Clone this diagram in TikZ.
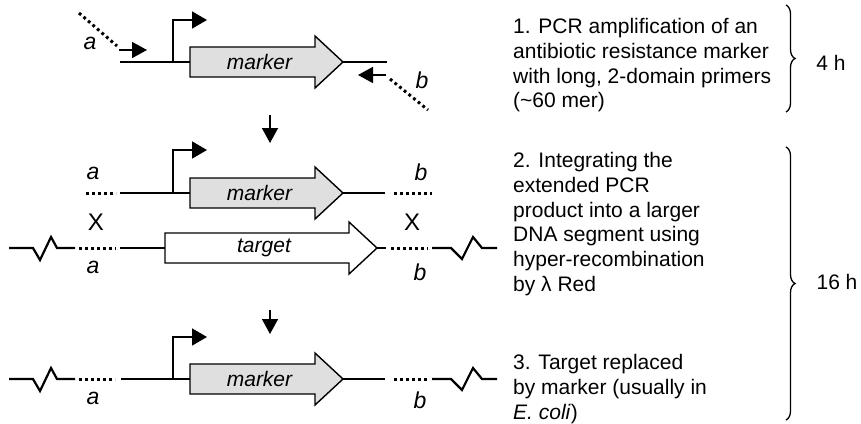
\documentclass[tikz,border=0pt]{standalone}
\usepackage{fontspec}
\setmainfont{Liberation Sans}
\usetikzlibrary{arrows.meta,decorations.pathreplacing}
\tikzset{
  dna/.style       = {line width=2.2pt, line join=miter},
  flank/.style     = {line width=3pt, dash pattern=on 2.8pt off 3.2pt},
  genebox/.style   = {draw, line width=1.4pt, line join=miter},
  genetext/.style  = {font=\fontsize{21}{24}\selectfont\itshape, inner sep=0pt},
  promoter/.style  = {line width=1.6pt, -{Triangle[length=15pt,width=17pt]}},
  primer/.style    = {line width=1.6pt, -{Triangle[length=15pt,width=16pt]}},
  flowarrow/.style = {line width=1.6pt, -{Triangle[length=15pt,width=16pt]}},
  steptext/.style  = {font=\fontsize{21}{24.8}\selectfont, align=left, inner sep=0pt,
                      anchor=north west},
  sitelabel/.style = {font=\fontsize{23}{24}\selectfont\itshape, inner sep=0pt},
  plainlabel/.style = {font=\fontsize{21}{24}\selectfont, inner sep=0pt},
  crosslabel/.style = {font=\fontsize{24}{24}\selectfont, inner sep=0pt},
  timebrace/.style = {decorate, decoration={brace, amplitude=9pt}, line width=1.3pt}
}
% gene drawn as a block arrow: name, tail x, tip x, y, fill, text
\newcommand{\genearrow}[6]{%
  \draw[genebox, fill=#5] (#2,#4-15) -- (#3-28,#4-15) -- (#3-28,#4-26) -- (#3,#4)
    -- (#3-28,#4+26) -- (#3-28,#4+15) -- (#2,#4+15) -- cycle;
  \node[genetext] (#1) at ({(#2+#3)/2-7},#4) {#6};
  \coordinate (#1 tail) at (#2,#4);
  \coordinate (#1 tip) at (#3,#4);
}

\begin{document}
\begin{tikzpicture}[x=1pt, y=-1pt]
  \useasboundingbox (0,0) rectangle (861,423);

  % step 1, the PCR product and its two primers
  \genearrow{m1}{190}{343}{62}{gray!25}{marker}
  \draw[dna] (120,62) -- (m1 tail) (m1 tip) -- (387,62);
  \draw[promoter] (173,62) |- (207,20);
  \draw[flank] (79,13) -- (117,46);
  \draw[primer] (119,50) -- (147,50);
  \draw[primer] (386,75) -- (358,75);
  \draw[flank] (390,79) -- (428,110);
  \node[sitelabel] (a1) at (90,43) {a};
  \node[sitelabel] (b1) at (422,80) {b};

  \draw[flowarrow] (270,115) -- (270,143);

  % step 2, extended product above the target segment
  \genearrow{m2}{190}{343}{193}{gray!25}{marker}
  \draw[dna] (120,193) -- (m2 tail) (m2 tip) -- (385,193);
  \draw[flank] (86,193) -- (116,193);
  \draw[flank] (394,193) -- (432,193);
  \draw[promoter] (173,193) |- (207,150);
  \node[sitelabel] (a2) at (93,173) {a};
  \node[sitelabel] (b2) at (421,172) {b};
  \node[crosslabel] (x1) at (96,222) {X};
  \node[crosslabel] (x2) at (412,222) {X};

  \genearrow{tg}{165}{377}{248}{white}{target}
  \draw[dna] (120,248) -- (tg tail) (tg tip) -- (386,248);
  \draw[flank] (79,248) -- (116,248);
  \draw[flank] (391,248) -- (428,248);
  \node[sitelabel] (a3) at (93,267) {a};
  \node[sitelabel] (b3) at (420,272) {b};

  \draw[flowarrow] (270,310) -- (270,334);

  % step 3, marker in place of the target
  \genearrow{m3}{190}{343}{379}{gray!25}{marker}
  \draw[dna] (121,379) -- (m3 tail) (m3 tip) -- (385,379);
  \draw[flank] (79,379) -- (115,379);
  \draw[flank] (394,379) -- (428,379);
  \draw[promoter] (173,379) |- (207,337);
  \node[sitelabel] (a4) at (93,398) {a};
  \node[sitelabel] (b4) at (420,400) {b};

  % broken ends of the larger segment
  \foreach \y in {248,379} {
    \draw[dna] (9,\y) -- ++(24,0) -- ++(7,12) -- ++(11,-23) -- ++(6,11) -- ++(18,0);
    \draw[dna] (432,\y) -- ++(19,0) -- ++(11,11) -- ++(11,-22) -- ++(9,11) -- ++(15,0);
  }

  % the steps and their times
  \node[steptext] (s1) at (513,18) {1. PCR amplification of an\\antibiotic resistance marker\\with long, 2-domain primers\\(\textasciitilde 60 mer)};
  \node[steptext] (s2) at (513,152) {2. Integrating the\\extended PCR\\product into a larger\\DNA segment using\\hyper-recombination\\by λ Red};
  \node[steptext] (s3) at (513,354) {3. Target replaced\\by marker (usually in\\\textit{E. coli})};

  \draw[timebrace] (786,5) -- (786,112);
  \node[plainlabel] (h1) at (831,63) {4 h};
  \draw[timebrace] (786,147) -- (786,420);
  \node[plainlabel] (h2) at (837,282) {16 h};
\end{tikzpicture}
\end{document}
